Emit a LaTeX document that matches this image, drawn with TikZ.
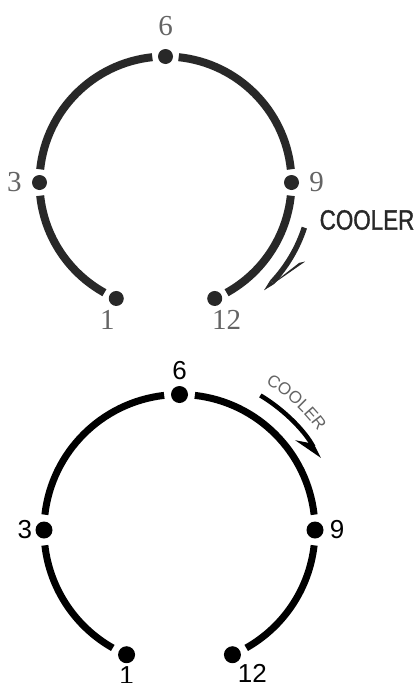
\documentclass[tikz,border=0pt]{standalone}
\usepackage{fontspec}
\setmainfont{Liberation Serif}
\newfontfamily\dialsans{Liberation Sans}
\newfontfamily\coolersans[FakeStretch=0.8,FakeBold=1.2]{Liberation Sans}
\usepackage{tikz}
\usetikzlibrary{positioning,arrows.meta,calc,decorations.text}
\definecolor{inkgray}{RGB}{40,40,40}
\definecolor{numgray}{RGB}{100,100,100}

\tikzset{
  upring/.style={line width=8pt,inkgray},
  lowring/.style={line width=7pt,black},
  updot/.style={circle,fill=inkgray,minimum size=15pt,inner sep=0pt},
  lowdot/.style={circle,fill=black,minimum size=17pt,inner sep=0pt},
  upnum/.style={inner sep=0pt,text=numgray,font=\fontsize{29}{29}\selectfont},
  lownum/.style={inner sep=0pt,text=black,font=\dialsans\fontsize{26}{26}\selectfont},
}

\begin{document}
\begin{tikzpicture}[x=1pt,y=1pt]
\useasboundingbox (0,0) rectangle (418,-683);

% upper dial
\coordinate (uc) at (165.5,-182.5);
\foreach \ang/\name in {90/u6,180/u3,0/u9,247/u1,293/u12}
  \node[updot] (\name) at ($(uc)+(\ang:126)$) {};
\foreach \a/\b in {96/174,186/241,84/6,-6/-61}
  \draw[upring] ($(uc)+(\a:126)$) arc[start angle=\a,end angle=\b,radius=126];
\node[upnum,above=13pt of u6] (l6) {6};
\node[upnum,left=10pt of u3] (l3) {3};
\node[upnum,right=10pt of u9] (l9) {9};
\node[upnum,below=4pt of u1,xshift=-9pt] (l1) {1};
\node[upnum,below=4pt of u12,xshift=12pt] (l12) {12};
% arrow with one barb
\coordinate (ua) at ($(uc)+(-18:146)$);
\coordinate (ut) at ($(uc)+(-47.5:146)$);
\draw[inkgray,line width=5.5pt] (ua) arc[start angle=-18,end angle=-43,radius=146];
\fill[inkgray] ($(uc)+(-43:148.75)$) -- (ut) -- ($(uc)+(-43:143.25)$) -- cycle;
\fill[inkgray] (ut) -- ($(uc)+(-29.5:160.5)$) -- ($(uc)+(-31:156)$) -- cycle;
\node[inner sep=0pt,text=inkgray,font=\coolersans\fontsize{28}{28}\selectfont] (ucool) at (367,-220) {COOLER};

% lower dial
\coordinate (lc) at (179.5,-530);
\foreach \ang/\name in {90/d6,180/d3,0/d9,247/d1,293/d12}
  \node[lowdot] (\name) at ($(lc)+(\ang:135.5)$) {};
\foreach \a/\b in {96.5/173.5,186.5/240.5,83.5/6.5,-6.5/-60.5}
  \draw[lowring] ($(lc)+(\a:135.5)$) arc[start angle=\a,end angle=\b,radius=135.5];
\node[lownum,above=6pt of d6] (m6) {6};
\node[lownum,left=3pt of d3] (m3) {3};
\node[lownum,right=6pt of d9] (m9) {9};
\node[lownum,below=3pt of d1] (m1) {1};
\node[lownum,below=1pt of d12,xshift=20pt] (m12) {12};
\coordinate (la) at ($(lc)+(59:157)$);
\draw[black,line width=4.5pt,-{Stealth[harpoon,swap,length=24pt,width=26pt,inset=10pt]}]
  (la) arc[start angle=59,end angle=27,radius=157];
\coordinate (lt) at ($(lc)+(61:170)$);
\path[decorate,decoration={text along path,text align=center,
  text={|\dialsans\fontsize{17}{17}\selectfont\color{numgray}|COOLER}}]
  (lt) arc[start angle=61,end angle=34,radius=170];
\end{tikzpicture}
\end{document}
